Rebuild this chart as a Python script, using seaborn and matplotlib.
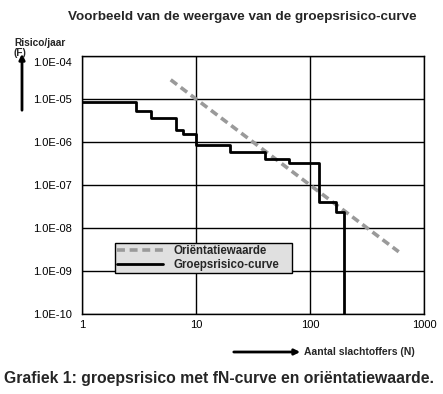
import numpy as np
import pandas as pd
import matplotlib
matplotlib.use("Agg")
import matplotlib.pyplot as plt
import matplotlib.ticker as mticker
import matplotlib.transforms as mtransforms
from matplotlib.lines import Line2D
from matplotlib.patches import FancyArrowPatch
import seaborn as sns

# ---- data ----
fn_n = [1, 3, 4, 6.7, 7.7, 10, 20, 40, 65, 120, 170, 200]
fn_f = [8.6e-6, 5.2e-6, 3.6e-6, 1.9e-6, 1.5e-6, 8.5e-7, 6.0e-7, 4.1e-7, 3.2e-7,
        4.1e-8, 2.4e-8, 1e-12]
ow_n = [6, 10, 100, 600]
ow_f = [2.8e-5, 1e-5, 1e-7, 2.8e-9]
x_ticks = [1, 10, 100, 1000]
x_tick_labels = ["1", "10", "100", "1000"]
y_ticks = [1e-10, 1e-9, 1e-8, 1e-7, 1e-6, 1e-5, 1e-4]
series_names = ["Oriëntatiewaarde", "Groepsrisico-curve"]

sns.set_style("white")
plt.rcParams['font.family'] = ['Liberation Sans', 'DejaVu Sans']

fig = plt.figure(figsize=(4.43, 3.94), dpi=100)
W, H = 443, 394
L, R, T, B = 82, 424, 56, 314
ax = fig.add_axes([L / W, 1 - B / H, (R - L) / W, (B - T) / H])

df_fn = pd.DataFrame({"N": fn_n, "F": fn_f})
df_ow = pd.DataFrame({"N": ow_n, "F": ow_f})

DASH = (2.2, 1.3)
sns.lineplot(data=df_ow, x="N", y="F", ax=ax, estimator=None, sort=False,
             color="#9a9a9a", linewidth=2.6, zorder=3)
ax.lines[-1].set_dashes(DASH)
sns.lineplot(data=df_fn, x="N", y="F", ax=ax, estimator=None, sort=False,
             color="black", linewidth=2.0, drawstyle="steps-post", zorder=4)

ax.set_xscale("log")
ax.set_yscale("log")
ax.set_xlim(1, 1000)
ax.set_ylim(1e-10, 1e-4)

ax.grid(True, which="major", color="black", linewidth=1.0)
ax.set_axisbelow(True)
for s in ax.spines.values():
    s.set_color("black")
    s.set_linewidth(1.0)

ax.set_xticks(x_ticks)
ax.set_xticklabels(x_tick_labels)
ax.set_yticks(y_ticks)
ax.yaxis.set_major_formatter(mticker.FuncFormatter(lambda v, p: f"{v:.1E}"))
ax.xaxis.set_minor_locator(mticker.LogLocator(base=10, subs=np.arange(2, 10)))
ax.yaxis.set_minor_locator(mticker.LogLocator(base=10, subs=np.arange(2, 10)))
ax.xaxis.set_minor_formatter(mticker.NullFormatter())
ax.yaxis.set_minor_formatter(mticker.NullFormatter())
ax.tick_params(which="major", direction="out", length=3, width=1, color="black",
               labelsize=8, labelcolor="black")
ax.tick_params(which="minor", direction="in", length=2.5, width=0.8, color="black")
ax.tick_params(axis="x", which="major", pad=1.0)
ax.tick_params(axis="y", which="major", pad=4)
ax.set_xlabel("")
ax.set_ylabel("")

# shift top y tick label down a little (as in the reference)
fig.canvas.draw()
for lbl in ax.get_yticklabels():
    if lbl.get_text() == "1.0E-04":
        lbl.set_transform(lbl.get_transform() +
                          mtransforms.ScaledTranslation(0, -6 / 100, fig.dpi_scale_trans))

# legend
handles = [Line2D([], [], color="#9a9a9a", linewidth=2.6, dashes=DASH),
           Line2D([], [], color="black", linewidth=2.0)]
leg = ax.legend(handles, series_names, loc="upper left", mode="expand",
                bbox_to_anchor=(115 / W, 1 - 272 / H, 177 / W, 29 / H),
                bbox_transform=fig.transFigure,
                borderaxespad=0, fancybox=False, framealpha=1, facecolor="#e0e0e0",
                edgecolor="black", prop={"weight": "bold", "size": 8.3},
                handlelength=4.0, borderpad=0.15, labelspacing=0.2, handletextpad=0.9)
leg.get_frame().set_linewidth(1.0)
leg.set_zorder(10)

# texts
fig.text(242 / W, 1 - 17 / H, "Voorbeeld van de weergave van de groepsrisico-curve",
         ha="center", va="center", fontsize=9.7, fontweight="bold")
fig.text(14 / W, 1 - 48 / H, "Risico/jaar\n(F)", ha="left", va="center",
         fontsize=7.3, fontweight="bold", linespacing=1.05)
fig.add_artist(FancyArrowPatch(
    (22 / W, 1 - 113 / H), (22 / W, 1 - 51 / H), transform=fig.transFigure,
    arrowstyle="-|>", mutation_scale=8, linewidth=2.0, color="black"))
fig.add_artist(FancyArrowPatch(
    (231 / W, 1 - 352 / H), (303 / W, 1 - 352 / H), transform=fig.transFigure,
    arrowstyle="-|>", mutation_scale=8, linewidth=2.0, color="black"))
fig.text(304 / W, 1 - 352 / H, "Aantal slachtoffers (N)", ha="left", va="center",
         fontsize=7.5, fontweight="bold")
fig.text(219 / W, 1 - 378 / H, "Grafiek 1: groepsrisico met fN-curve en oriëntatiewaarde.",
         ha="center", va="center", fontsize=11.3, fontweight="bold")

fig.savefig("out.png", dpi=100, facecolor="white")
